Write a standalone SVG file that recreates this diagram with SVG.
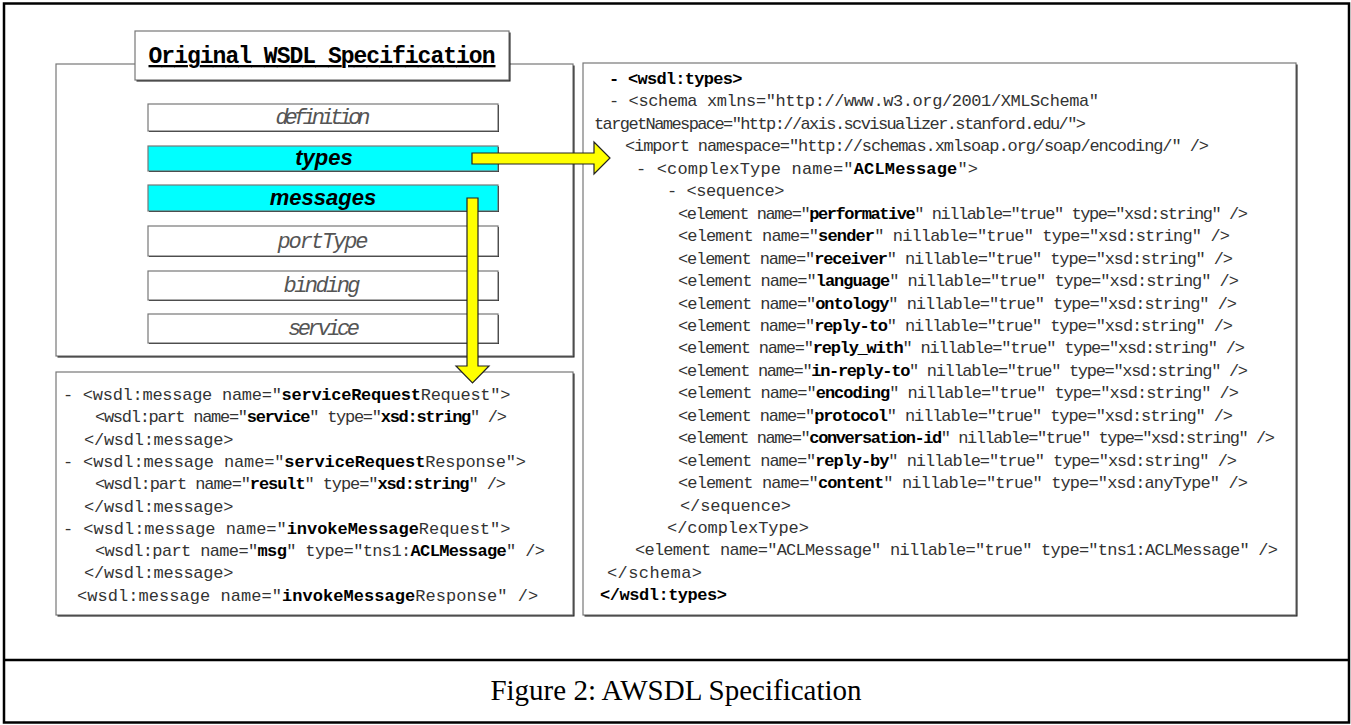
<svg xmlns="http://www.w3.org/2000/svg" width="1351" height="725" viewBox="0 0 1351 725">
<style>
.frame{fill:none;stroke:#000;stroke-width:2.5}
.sh{fill:#111}
.box{fill:#fff;stroke:#777;stroke-width:1.2}
.cy{fill:#00ffff;stroke:#777;stroke-width:1.2}
.code{font-family:"Liberation Mono","Courier New",monospace;font-size:17px;fill:#333}
.b{font-weight:bold;fill:#000}
.it{font-family:"Liberation Mono","Courier New",monospace;font-style:italic;font-size:22px;fill:#555;text-anchor:middle}
.itb{font-family:"Liberation Sans",Arial,sans-serif;font-style:italic;font-weight:bold;font-size:22px;fill:#000;text-anchor:middle}
.title{font-family:"Liberation Mono","Courier New",monospace;font-weight:bold;font-size:23px;fill:#000;text-anchor:middle;text-decoration:underline}
.cap{font-family:"Liberation Serif","Times New Roman",serif;font-size:29px;fill:#000;text-anchor:middle}
.arrow{fill:#ffff00;stroke:#222;stroke-width:1.2;stroke-linejoin:miter}
</style>
<rect class="frame" x="4" y="3.5" width="1345" height="719"/>
<line x1="4" y1="660" x2="1349" y2="660" stroke="#000" stroke-width="2.5"/>

<g id="original-wsdl">
<rect class="sh" x="57.5" y="65.5" width="517" height="292"/>
<rect class="box" x="56" y="64" width="517" height="292"/>
</g>
<g id="title">
<rect class="sh" x="136.5" y="32.5" width="374" height="49"/>
<rect class="box" x="135" y="31" width="374" height="49"/>
<text class="title" x="322" y="63" textLength="347" lengthAdjust="spacing">Original WSDL Specification</text>
</g>
<g id="definition">
<rect class="sh" x="149" y="105" width="350" height="27"/>
<rect class="box" x="148" y="104" width="350" height="27"/>
<text class="it" x="323" y="124" textLength="95" lengthAdjust="spacing">definition</text>
</g>
<g id="types">
<rect class="sh" x="149" y="147" width="350" height="25"/>
<rect class="cy" x="148" y="146" width="350" height="25"/>
<text class="itb" x="324" y="165">types</text>
</g>
<g id="messages">
<rect class="sh" x="149" y="186" width="350" height="26"/>
<rect class="cy" x="148" y="185" width="350" height="26"/>
<text class="itb" x="323" y="205">messages</text>
</g>
<g id="portType">
<rect class="sh" x="149" y="227" width="350" height="30"/>
<rect class="box" x="148" y="226" width="350" height="30"/>
<text class="it" x="323" y="248" textLength="91" lengthAdjust="spacing">portType</text>
</g>
<g id="binding">
<rect class="sh" x="149" y="272" width="350" height="29"/>
<rect class="box" x="148" y="271" width="350" height="29"/>
<text class="it" x="322" y="292" textLength="77" lengthAdjust="spacing">binding</text>
</g>
<g id="service">
<rect class="sh" x="149" y="315" width="350" height="29"/>
<rect class="box" x="148" y="314" width="350" height="29"/>
<text class="it" x="324" y="335" textLength="72" lengthAdjust="spacing">service</text>
</g>

<g id="messages-xml">
<rect class="sh" x="57.5" y="373.5" width="517" height="243"/>
<rect class="box" x="56" y="372" width="517" height="243"/>
<text class="code" x="63" y="400" textLength="447.4" lengthAdjust="spacing">- &lt;wsdl:message name="<tspan class="b">serviceRequest</tspan>Request"&gt;</text>
<text class="code" x="95" y="422.3" textLength="412" lengthAdjust="spacing">&lt;wsdl:part name="<tspan class="b">service</tspan>" type="<tspan class="b">xsd:string</tspan>" /&gt;</text>
<text class="code" x="84" y="444.6" textLength="149.4" lengthAdjust="spacing">&lt;/wsdl:message&gt;</text>
<text class="code" x="63" y="466.9" textLength="463" lengthAdjust="spacing">- &lt;wsdl:message name="<tspan class="b">serviceRequest</tspan>Response"&gt;</text>
<text class="code" x="95" y="489.2" textLength="411" lengthAdjust="spacing">&lt;wsdl:part name="<tspan class="b">result</tspan>" type="<tspan class="b">xsd:string</tspan>" /&gt;</text>
<text class="code" x="84" y="511.5" textLength="149.4" lengthAdjust="spacing">&lt;/wsdl:message&gt;</text>
<text class="code" x="63" y="533.8" textLength="447.4" lengthAdjust="spacing">- &lt;wsdl:message name="<tspan class="b">invokeMessage</tspan>Request"&gt;</text>
<text class="code" x="95" y="556.1" textLength="450" lengthAdjust="spacing">&lt;wsdl:part name="<tspan class="b">msg</tspan>" type="tns1:<tspan class="b">ACLMessage</tspan>" /&gt;</text>
<text class="code" x="84" y="578.4" textLength="149.4" lengthAdjust="spacing">&lt;/wsdl:message&gt;</text>
<text class="code" x="77" y="600.7" textLength="461.3" lengthAdjust="spacing">&lt;wsdl:message name="<tspan class="b">invokeMessage</tspan>Response" /&gt;</text>
</g>

<g id="types-xml">
<rect class="sh" x="584.5" y="64.5" width="713" height="552"/>
<rect class="box" x="583" y="63" width="713" height="552"/>
<text class="code b" x="609" y="84" textLength="133.4" lengthAdjust="spacing">- &lt;wsdl:types&gt;</text>
<text class="code" x="609" y="106.45" textLength="490" lengthAdjust="spacing">- &lt;schema xmlns="http://www.w3.org/2001/XMLSchema"</text>
<text class="code" x="594" y="128.9" textLength="492" lengthAdjust="spacing">targetNamespace="http://axis.scvisualizer.stanford.edu/"&gt;</text>
<text class="code" x="625" y="151.35" textLength="584" lengthAdjust="spacing">&lt;import namespace="http://schemas.xmlsoap.org/soap/encoding/" /&gt;</text>
<text class="code" x="636" y="173.8" textLength="342" lengthAdjust="spacing">- &lt;complexType name="<tspan class="b">ACLMessage</tspan>"&gt;</text>
<text class="code" x="667" y="196.25" textLength="117.4" lengthAdjust="spacing">- &lt;sequence&gt;</text>
<text class="code" x="678" y="218.7" textLength="570" lengthAdjust="spacing">&lt;element name="<tspan class="b">performative</tspan>" nillable="true" type="xsd:string" /&gt;</text>
<text class="code" x="678" y="241.15" textLength="552" lengthAdjust="spacing">&lt;element name="<tspan class="b">sender</tspan>" nillable="true" type="xsd:string" /&gt;</text>
<text class="code" x="678" y="263.6" textLength="555" lengthAdjust="spacing">&lt;element name="<tspan class="b">receiver</tspan>" nillable="true" type="xsd:string" /&gt;</text>
<text class="code" x="678" y="286.05" textLength="561" lengthAdjust="spacing">&lt;element name="<tspan class="b">language</tspan>" nillable="true" type="xsd:string" /&gt;</text>
<text class="code" x="678" y="308.5" textLength="559" lengthAdjust="spacing">&lt;element name="<tspan class="b">ontology</tspan>" nillable="true" type="xsd:string" /&gt;</text>
<text class="code" x="678" y="330.95" textLength="555" lengthAdjust="spacing">&lt;element name="<tspan class="b">reply-to</tspan>" nillable="true" type="xsd:string" /&gt;</text>
<text class="code" x="678" y="353.4" textLength="567" lengthAdjust="spacing">&lt;element name="<tspan class="b">reply_with</tspan>" nillable="true" type="xsd:string" /&gt;</text>
<text class="code" x="678" y="375.85" textLength="570" lengthAdjust="spacing">&lt;element name="<tspan class="b">in-reply-to</tspan>" nillable="true" type="xsd:string" /&gt;</text>
<text class="code" x="678" y="398.3" textLength="561" lengthAdjust="spacing">&lt;element name="<tspan class="b">encoding</tspan>" nillable="true" type="xsd:string" /&gt;</text>
<text class="code" x="678" y="420.75" textLength="555" lengthAdjust="spacing">&lt;element name="<tspan class="b">protocol</tspan>" nillable="true" type="xsd:string" /&gt;</text>
<text class="code" x="678" y="443.2" textLength="597" lengthAdjust="spacing">&lt;element name="<tspan class="b">conversation-id</tspan>" nillable="true" type="xsd:string" /&gt;</text>
<text class="code" x="678" y="465.65" textLength="559" lengthAdjust="spacing">&lt;element name="<tspan class="b">reply-by</tspan>" nillable="true" type="xsd:string" /&gt;</text>
<text class="code" x="678" y="488.1" textLength="570" lengthAdjust="spacing">&lt;element name="<tspan class="b">content</tspan>" nillable="true" type="xsd:anyType" /&gt;</text>
<text class="code" x="680" y="510.55" textLength="111" lengthAdjust="spacing">&lt;/sequence&gt;</text>
<text class="code" x="667" y="533" textLength="141.9" lengthAdjust="spacing">&lt;/complexType&gt;</text>
<text class="code" x="635" y="555.45" textLength="643" lengthAdjust="spacing">&lt;element name="ACLMessage" nillable="true" type="tns1:ACLMessage" /&gt;</text>
<text class="code" x="607" y="577.9" textLength="95" lengthAdjust="spacing">&lt;/schema&gt;</text>
<text class="code b" x="600" y="600.35" textLength="127" lengthAdjust="spacing">&lt;/wsdl:types&gt;</text>
</g>

<g id="connectors">
<polygon class="arrow" points="472,153 594,153 594,142 610,158 594,174 594,164 472,164"/>
<polygon class="arrow" points="467,198 478,198 478,366 489,366 472.5,383 456,366 467,366"/>
</g>

<g id="caption">
<text class="cap" x="676" y="700">Figure 2: AWSDL Specification</text>
</g>
</svg>
